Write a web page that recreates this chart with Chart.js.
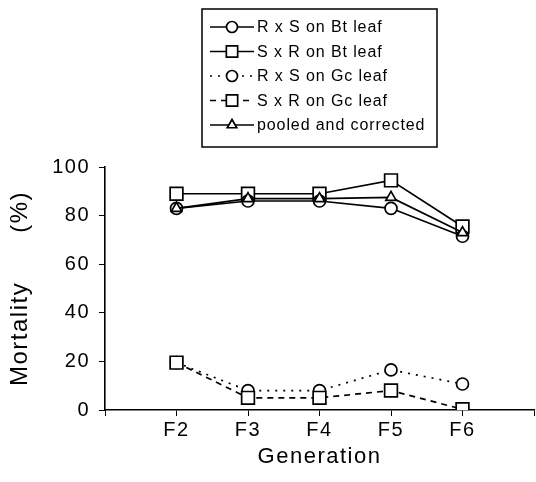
<!DOCTYPE html>
<html>
<head>
<meta charset="utf-8">
<script src="https://cdn.jsdelivr.net/npm/chart.js@4.4.1/dist/chart.umd.min.js"></script>
<style>
  html, body { margin: 0; padding: 0; background: #fff; }
  #wrap { width: 536px; height: 482px; position: relative; }
</style>
</head>
<body>
<div id="wrap"><canvas id="chart"></canvas></div>
<script>
// Categories (blank ends keep the axis running past F2 and F6)
var generations = [ "", "F2", "F3", "F4", "F5", "F6", "" ];

// Mortality (%)
var rxsBt = [ null, 83, 86, 86, 83, 71.5 ];
var sxrBt = [ null, 89, 89, 89, 94.5, 75.5 ];
var rxsGc = [ null, 19.5, 8, 8, 16.5, 10.7 ];
var sxrGc = [ null, 19.5, 5, 5, 8, 0.3 ];
var pooled = [ null, 83, 87, 87, 87.5, 73 ];

var yTicks = [ 0, 20, 40, 60, 80, 100 ];

var FONT = "'Liberation Sans', Arial, sans-serif";

function series( label, data, style, dash ) {
	return {
		label: label,
		data: data,
		borderColor: "#000",
		borderWidth: 1.7,
		borderDash: dash,
		pointStyle: style,
		// the library draws a rect with side radius*sqrt(2)
		pointRadius: style == "rect" ? 9 : 6,
		pointBorderWidth: 1.7,
		pointBorderColor: "#000",
		pointBackgroundColor: "#fff",
		tension: 0,
		spanGaps: false
	};
}

var datasets = [
	series( "S x R on Gc leaf", sxrGc, "rect", [ 6, 5 ] ),
	series( "R x S on Gc leaf", rxsGc, "circle", [ 2, 6 ] ),
	series( "pooled and corrected", pooled, "triangle", [] ),
	series( "R x S on Bt leaf", rxsBt, "circle", [] ),
	series( "S x R on Bt leaf", sxrBt, "rect", [] )
];

// Order the legend shows its rows in
var legendOrder = [ 3, 4, 1, 0, 2 ];

var spacing = {
	id: "spacing",
	beforeDraw: function( chart ) {
		chart.ctx.letterSpacing = "1.5px";
	}
};

var boxLegend = {
	id: "boxLegend",
	afterDraw: function( chart ) {
		var ctx = chart.ctx,
			x0 = 202, y0 = 9, x1 = 437, y1 = 147;
		ctx.save();
		ctx.strokeStyle = "#000";
		ctx.lineWidth = 1.5;
		ctx.setLineDash( [] );
		ctx.strokeRect( x0, y0, x1 - x0, y1 - y0 );
		ctx.font = "16px " + FONT;
		ctx.letterSpacing = "0.9px";
		ctx.fillStyle = "#000";
		ctx.textBaseline = "middle";
		legendOrder.forEach( function( idx, row ) {
			var ds = chart.data.datasets[ idx ],
				y = 27 + row * 24.5;
			ctx.lineWidth = 1.7;
			ctx.setLineDash( ds.borderDash );
			ctx.beginPath();
			ctx.moveTo( 210, y );
			ctx.lineTo( 254, y );
			ctx.stroke();
			ctx.setLineDash( [] );
			ctx.fillStyle = "#fff";
			Chart.helpers.drawPoint( ctx, {
				pointStyle: ds.pointStyle,
				radius: ds.pointStyle == "rect" ? 8 : 5.5,
				rotation: 0,
				borderWidth: 1.5
			}, 232, y );
			ctx.fillStyle = "#000";
			ctx.fillText( ds.label, 257, y + 1 );
		} );
		ctx.restore();
	}
};

new Chart( document.getElementById( "chart" ), {
	type: "line",
	data: { labels: generations, datasets: datasets },
	plugins: [ spacing, boxLegend ],
	options: {
		responsive: true,
		maintainAspectRatio: false,
		animation: false,
		layout: { autoPadding: false, padding: { top: 167, right: 0, left: 0, bottom: 0 } },
		plugins: {
			legend: { display: false },
			tooltip: { enabled: false }
		},
		scales: {
			x: {
				offset: false,
				afterFit: function( axis ) { axis.height = 72; },
				grid: { drawOnChartArea: false, drawTicks: true, tickLength: 6, color: "#000" },
				border: { color: "#000", width: 1.6 },
				ticks: { color: "#000", font: { family: FONT, size: 20 }, padding: 2, maxRotation: 0, autoSkip: false },
				title: { display: true, text: "Generation", color: "#000", font: { family: FONT, size: 22 }, padding: { top: 0, bottom: 12 } }
			},
			y: {
				min: 0,
				max: 100,
				afterFit: function( axis ) { axis.width = 105; },
				afterBuildTicks: function( axis ) {
					axis.ticks = [];
					for ( var v = 0; v <= 100; v += 10 ) axis.ticks.push( { value: v } );
				},
				grid: { drawOnChartArea: false, drawTicks: true, tickLength: 6, color: "#000" },
				border: { color: "#000", width: 1.6 },
				ticks: {
					color: "#000",
					font: { family: FONT, size: 20 },
					padding: 9,
					callback: function( v ) { return yTicks.indexOf( v ) >= 0 ? String( v ) : ""; }
				},
				title: { display: true, text: "Mortality      (%)", color: "#000", font: { family: FONT, size: 24 }, padding: { top: 6, bottom: 6 } }
			}
		}
	}
} );
</script>
</body>
</html>
